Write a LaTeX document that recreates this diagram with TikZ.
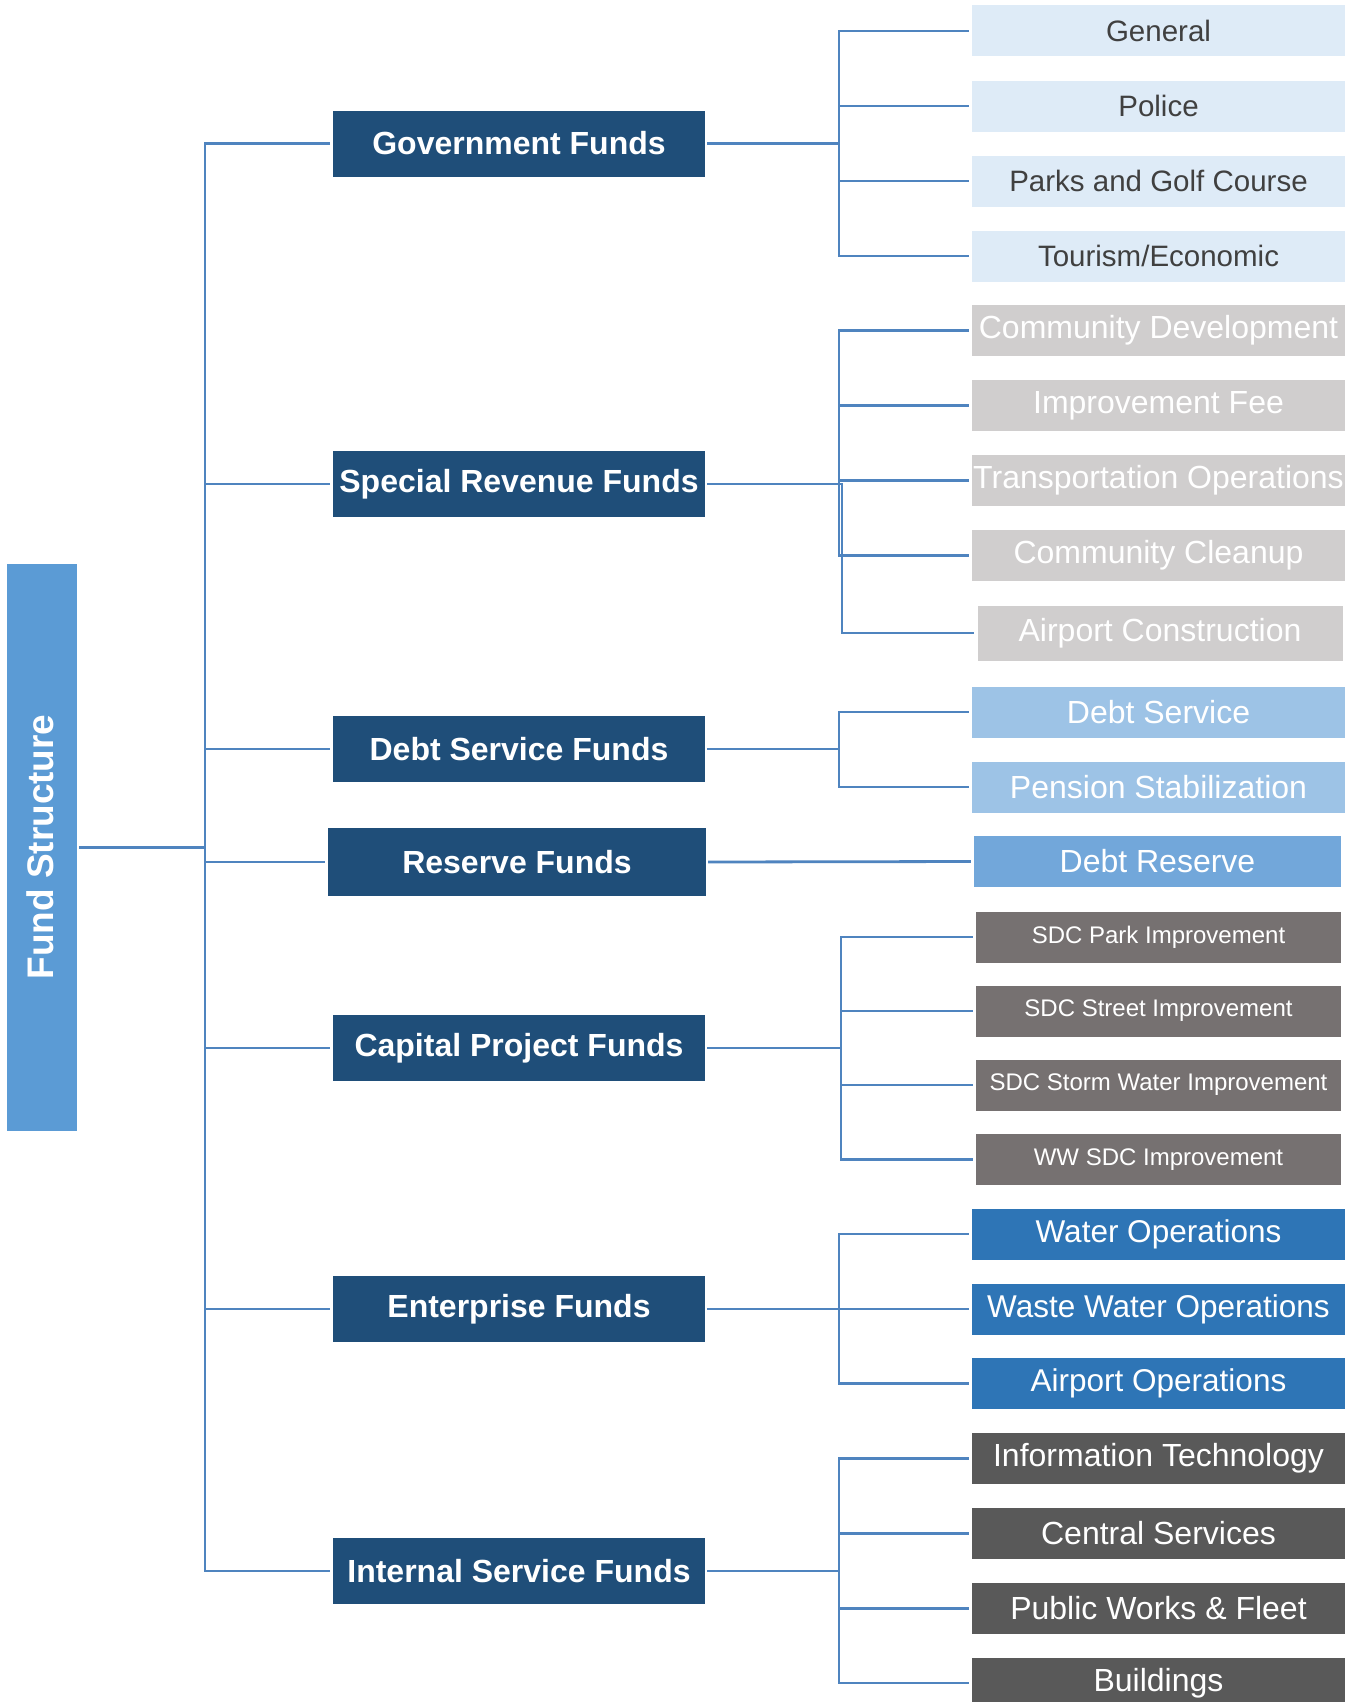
\documentclass[tikz,border=0pt]{standalone}
\usepackage{fontspec}
\setmainfont{Liberation Sans}
\definecolor{navy}{HTML}{1F4E79}
\definecolor{fsblue}{HTML}{5B9BD5}
\definecolor{conncol}{HTML}{4F84BF}
\definecolor{govfill}{HTML}{DEEBF7}
\definecolor{govtext}{HTML}{404040}
\definecolor{srfill}{HTML}{D0CECE}
\definecolor{dsfill}{HTML}{9DC3E6}
\definecolor{drfill}{HTML}{72A7DA}
\definecolor{sdcfill}{HTML}{767171}
\definecolor{entfill}{HTML}{2E75B6}
\definecolor{intfill}{HTML}{595959}
\begin{document}
\begin{tikzpicture}[x=1pt,y=-1pt,
  conn/.style={draw=conncol,line width=2.8pt,shorten >=3pt,shorten <=2pt},
  lvlone/.style={fill=navy,text=white,minimum width=372pt,minimum height=66pt,inner sep=0pt,
    font=\fontsize{32}{38}\selectfont\bfseries},
  leaf/.style={minimum width=373pt,minimum height=51pt,inner sep=0pt,
    font=\fontsize{32}{38}\selectfont},
  govleaf/.style={leaf,fill=govfill,text=govtext,font=\fontsize{29.5}{36}\selectfont},
  srleaf/.style={leaf,fill=srfill,text=white},
  dsleaf/.style={leaf,fill=dsfill,text=white},
  drleaf/.style={leaf,fill=drfill,text=white,minimum width=367pt},
  sdcleaf/.style={leaf,fill=sdcfill,text=white,font=\fontsize{24}{30}\selectfont,minimum width=365pt},
  entleaf/.style={leaf,fill=entfill,text=white,font=\fontsize{31.5}{38}\selectfont},
  intleaf/.style={leaf,fill=intfill,text=white}]
\useasboundingbox[fill=white] (0,0) rectangle (1355,1702);

% root
\node[fill=fsblue,text=white,minimum width=70pt,minimum height=567pt,inner sep=0pt] (fs) at (42,847.5) {};
\node[text=white,rotate=90,font=\fontsize{37}{42}\selectfont\bfseries,inner sep=0pt] (fst) at (40,847) {Fund Structure};

% level one
\node[lvlone] (gov) at (519,143.5) {Government Funds};
\node[lvlone] (srf) at (519,484) {Special Revenue Funds};
\node[lvlone] (dsf) at (519,749) {Debt Service Funds};
\node[lvlone,minimum width=378pt,minimum height=68pt] (rf) at (517,862) {Reserve Funds};
\node[lvlone] (cpf) at (519,1048) {Capital Project Funds};
\node[lvlone] (ef) at (519,1309) {Enterprise Funds};
\node[lvlone] (isf) at (519,1571) {Internal Service Funds};

% leaves
\node[govleaf] (gen) at (1158.5,31) {General};
\node[govleaf] (pol) at (1158.5,106) {Police};
\node[govleaf] (park) at (1158.5,181) {Parks and Golf Course};
\node[govleaf] (tour) at (1158.5,256) {Tourism/Economic};

\node[srleaf] (cd) at (1158.5,330.5) {Community Development};
\node[srleaf] (imp) at (1158.5,405.5) {Improvement Fee};
\node[srleaf] (tra) at (1158.5,480.5) {Transportation Operations};
\node[srleaf] (cc) at (1158.5,555.5) {Community Cleanup};
\node[srleaf,minimum width=365pt,minimum height=55pt] (ac) at (1160,633) {Airport Construction};

\node[dsleaf] (ds) at (1158.5,712) {Debt Service};
\node[dsleaf] (ps) at (1158.5,787) {Pension Stabilization};

\node[drleaf] (dr) at (1157.5,861.5) {Debt Reserve};

\node[sdcleaf] (sp) at (1158.5,937) {SDC Park Improvement};
\node[sdcleaf] (ss) at (1158.5,1011) {SDC Street Improvement};
\node[sdcleaf] (sw) at (1158.5,1085) {SDC Storm Water Improvement};
\node[sdcleaf] (ww) at (1158.5,1159.5) {WW SDC Improvement};

\node[entleaf] (wo) at (1158.5,1234) {Water Operations};
\node[entleaf] (wwo) at (1158.5,1309) {Waste Water Operations};
\node[entleaf] (ao) at (1158.5,1383.5) {Airport Operations};

\node[intleaf] (it) at (1158.5,1458.5) {Information Technology};
\node[intleaf] (cs) at (1158.5,1533.5) {Central Services};
\node[intleaf] (pw) at (1158.5,1608.5) {Public Works \& Fleet};
\node[intleaf] (bl) at (1158.5,1683) {Buildings};

% bracket coordinates
\coordinate (tx) at (205,0);
\coordinate (bx) at (839,0);
\coordinate (bxa) at (842,0);
\coordinate (bxc) at (841,0);

% trunk
\foreach \p in {gov,srf,dsf,rf,cpf,ef,isf}
  \draw[conn] (fs.east) -- (fs.east -| tx) |- (\p.west);

% groups
\foreach \l in {gen,pol,park,tour}
  \draw[conn] (gov.east) -- (gov.east -| bx) |- (\l.west);
\foreach \l in {cd,imp,tra,cc}
  \draw[conn] (srf.east) -- (srf.east -| bx) |- (\l.west);
\draw[conn] (srf.east) -- (srf.east -| bxa) |- (ac.west);
\foreach \l in {ds,ps}
  \draw[conn] (dsf.east) -- (dsf.east -| bx) |- (\l.west);
\draw[conn] (rf.east) -- (dr.west);
\foreach \l in {sp,ss,sw,ww}
  \draw[conn] (cpf.east) -- (cpf.east -| bxc) |- (\l.west);
\foreach \l in {wo,wwo,ao}
  \draw[conn] (ef.east) -- (ef.east -| bx) |- (\l.west);
\foreach \l in {it,cs,pw,bl}
  \draw[conn] (isf.east) -- (isf.east -| bx) |- (\l.west);
\end{tikzpicture}
\end{document}
